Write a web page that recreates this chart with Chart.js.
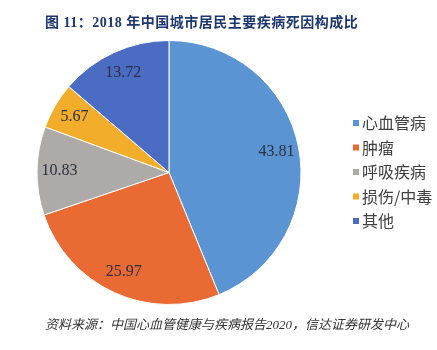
<!DOCTYPE html>
<html>
<head>
<meta charset="utf-8">
<script src="https://cdn.jsdelivr.net/npm/chart.js@4.4.1/dist/chart.umd.min.js"></script>
<style>
  html, body { margin: 0; padding: 0; background: #fff; }
  #wrap { position: relative; width: 437px; height: 350px; }
</style>
</head>
<body>
<div id="wrap"><canvas id="causes"></canvas></div>
<script>
const categories = ['心血管病', '肿瘤', '呼吸疾病', '损伤/中毒', '其他']
const shares = [43.81, 25.97, 10.83, 5.67, 13.72]
const sliceColors = ['#5b94d3', '#ea6a33', '#aeaaa8', '#f2ae2a', '#4a6cc2']

const titleText = '图 11：2018 年中国城市居民主要疾病死因构成比'
const sourceText = '资料来源：中国心血管健康与疾病报告2020，信达证券研发中心'

// value labels inside each slice
const sliceLabels = {
  id: 'sliceLabels',
  afterDatasetsDraw(chart) {
    const ctx = chart.ctx
    const meta = chart.getDatasetMeta(0)
    ctx.save()
    ctx.font = '16px "Liberation Serif", "Times New Roman", serif'
    ctx.fillStyle = '#2b2f3e'
    ctx.textAlign = 'center'
    ctx.textBaseline = 'middle'
    meta.data.forEach((arc, i) => {
      const p = arc.getProps(['x', 'y', 'startAngle', 'endAngle', 'outerRadius'], true)
      const mid = (p.startAngle + p.endAngle) / 2
      const r = p.outerRadius * 0.83
      ctx.fillText(shares[i].toFixed(2), p.x + Math.cos(mid) * r, p.y + Math.sin(mid) * r)
    })
    ctx.restore()
  }
}

// title, source line and the legend on the right
const frame = {
  id: 'frame',
  afterDraw(chart) {
    const ctx = chart.ctx
    ctx.save()
    ctx.textBaseline = 'middle'
    ctx.textAlign = 'left'

    ctx.font = 'bold 14px "Liberation Serif", "Noto Sans CJK SC", serif'
    ctx.fillStyle = '#1c3670'
    ctx.letterSpacing = '0.5px'
    ctx.fillText(titleText, 45, 23)
    ctx.letterSpacing = '0px'

    ctx.font = 'italic 13px "Liberation Serif", "Noto Sans CJK SC", serif'
    ctx.fillStyle = '#333'
    ctx.fillText(sourceText, 45, 326)

    ctx.font = '16px "Noto Sans CJK SC", sans-serif'
    categories.forEach((name, i) => {
      const y = 123 + i * 24.5
      ctx.fillStyle = sliceColors[i]
      ctx.fillRect(353, y - 3, 6, 6)
      ctx.fillStyle = '#404040'
      ctx.fillText(name, 362, y)
    })
    ctx.restore()
  }
}

new Chart(document.getElementById('causes'), {
  type: 'pie',
  data: {
    labels: categories,
    datasets: [{
      data: shares,
      backgroundColor: sliceColors,
      borderColor: '#fff',
      borderWidth: 1
    }]
  },
  options: {
    responsive: true,
    maintainAspectRatio: false,
    animation: false,
    layout: {
      padding: { left: 36, right: 135, top: 40, bottom: 45 }
    },
    plugins: {
      legend: { display: false },
      title: { display: false },
      tooltip: { enabled: false }
    }
  },
  plugins: [sliceLabels, frame]
})
</script>
</body>
</html>
